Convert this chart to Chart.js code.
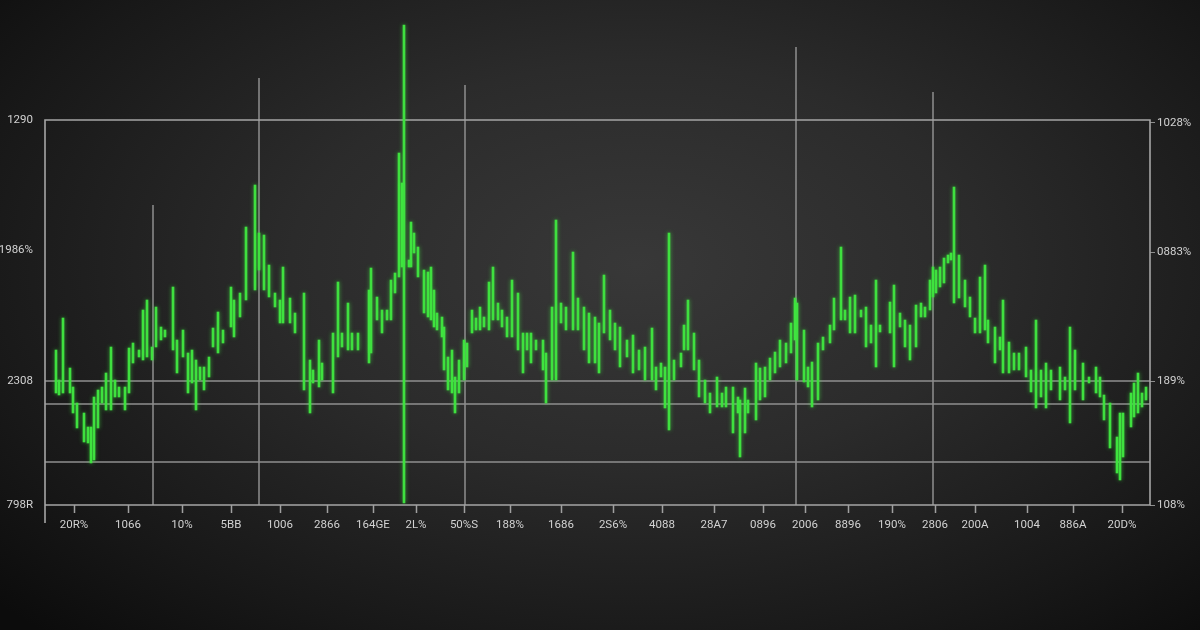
<!DOCTYPE html>
<html>
<head>
<meta charset="utf-8">
<script src="https://cdn.jsdelivr.net/npm/chart.js@4/dist/chart.umd.min.js"></script>
<style>
  html, body { margin: 0; padding: 0; }
  body {
    width: 1200px; height: 630px; overflow: hidden;
    background: radial-gradient(ellipse 72% 80% at 53% 42%, #383838 0%, #2b2b2b 40%, #181818 78%, #0c0c0c 100%);
  }
  #wrap { position: relative; width: 1200px; height: 630px; }
</style>
</head>
<body>
<div id="wrap"><canvas id="priceChart" width="1200" height="630"></canvas></div>
<script>
// session index (x), low and high of each bar
const times = [11,14,18,25,28,32,39,43,46,49,53,57,61,66,70,74,80,84,88,94,98,102,107,111,116,120,128,132,138,143,147,151,155,159,164,168,173,178,186,189,195,201,210,214,219,224,230,235,238,245,250,259,265,268,274,277,288,293,297,303,307,313,324,326,332,337,342,346,350,354,357,359,364,366,369,373,379,383,386,389,392,397,399,403,407,410,414,419,422,427,431,435,439,444,448,453,457,462,467,473,478,482,486,491,498,501,507,511,516,521,528,533,539,544,550,554,559,565,570,575,582,588,594,600,607,611,616,620,624,629,636,639,643,649,654,660,665,672,677,681,688,693,695,700,703,711,715,720,725,730,735,741,746,750,752,759,763,767,773,778,785,789,796,800,805,810,816,821,826,831,835,845,849,855,860,865,871,876,880,885,888,891,895,899,903,906,909,914,920,925,930,935,940,943,950,955,958,964,969,974,981,986,991,996,1001,1006,1015,1020,1025,1030,1038,1044,1051,1055,1059,1065,1072,1075,1078,1086,1089,1093,1097,1101];
const lows = [112,110,112,112,92,77,63,62,42,45,77,102,95,95,108,108,95,112,142,148,145,148,145,158,165,168,155,132,148,112,122,95,125,115,128,158,152,162,178,168,188,205,215,235,215,208,198,182,182,182,172,115,92,122,118,125,112,148,158,155,155,155,142,152,185,172,185,185,212,228,238,2,238,238,252,228,192,188,185,178,175,168,135,115,112,92,112,125,138,172,175,175,178,175,185,185,178,168,168,155,132,155,142,155,135,102,125,125,182,175,175,175,155,142,142,132,172,165,155,138,148,132,135,125,125,115,128,97,75,125,138,155,155,135,108,102,92,98,98,98,72,92,48,72,92,85,105,108,125,132,138,142,152,165,125,123,118,98,105,155,162,175,185,185,172,172,188,158,162,138,173,172,138,178,158,145,158,188,188,195,208,212,218,222,242,245,202,207,198,188,172,172,175,162,142,155,132,132,135,135,128,113,97,108,97,115,105,115,82,115,105,122,112,108,85,57,32,25,48,78,88,92,98,105];
const highs = [155,125,187,137,118,102,92,78,78,108,115,118,132,158,125,118,118,157,162,155,195,205,158,198,178,175,218,165,175,152,155,145,138,138,148,177,193,175,218,205,212,278,320,272,270,240,212,205,238,207,192,212,145,135,165,142,172,223,172,202,172,172,215,237,208,195,195,225,232,352,322,480,245,283,272,258,235,233,238,215,192,188,178,148,155,128,145,165,162,195,187,198,188,223,238,202,195,188,225,212,172,172,172,165,165,152,198,285,202,198,253,207,198,192,188,182,230,195,182,178,165,170,155,158,177,138,142,138,272,145,152,180,205,172,145,125,112,128,112,118,118,108,105,117,105,142,137,138,147,153,165,162,182,207,202,175,138,143,162,168,180,207,258,195,208,210,195,198,180,225,180,203,220,192,185,180,200,202,198,225,238,235,238,247,250,252,318,250,225,208,187,228,240,185,178,168,205,163,152,152,158,135,185,135,142,135,138,128,178,155,142,128,138,128,110,102,68,92,92,112,122,132,112,118];

// axis ticks and their labels
const leftTicks = [0, 124, 255, 385];
const leftLabels = ['798R', '2308', '1986%', '1290'];
const rightTicks = [0, 124, 253, 382];
const rightLabels = ['108%', '189%', '0883%', '1028%'];
const xTicks = [29, 83, 137, 186, 235, 282, 328, 371, 419, 465, 516, 568, 617, 669, 718, 760, 803, 847, 890, 930, 982, 1028, 1077];
const xLabels = ['20R%', '1066', '10%', '5BB', '1006', '2866', '164GE', '2L%', '50%S', '188%', '1686', '2S6%', '4088', '28A7', '0896', '2006', '8896', '190%', '2806', '200A', '1004', '886A', '20D%'];

// reference lines
const hLines = [124, 101, 43];
const frameTop = 385;
const vLines = [108, 214, 420, 751, 888];
const vLineTops = [300, 427, 420, 458, 413];

document.addEventListener('DOMContentLoaded', function () {
  const lineColor = '#8e8e8e';
  const labelFont = { family: 'Roboto', size: 11.5 };

  const framePlugin = {
    id: 'frame',
    beforeDatasetsDraw(chart) {
      const ctx = chart.ctx;
      const x = chart.scales.x, y = chart.scales.y;
      const left = x.getPixelForValue(x.min), right = x.getPixelForValue(x.max);
      const bottom = y.getPixelForValue(0), top = y.getPixelForValue(frameTop);
      ctx.save();
      ctx.strokeStyle = lineColor;
      ctx.lineWidth = 1.5;
      ctx.beginPath();
      hLines.forEach(function (v) {
        const py = y.getPixelForValue(v);
        ctx.moveTo(left, py); ctx.lineTo(right, py);
      });
      vLines.forEach(function (t, i) {
        const px = x.getPixelForValue(t);
        ctx.moveTo(px, bottom); ctx.lineTo(px, y.getPixelForValue(vLineTops[i]));
      });
      ctx.stroke();
      ctx.strokeStyle = '#a5a5a5';
      ctx.lineWidth = 1.6;
      ctx.beginPath();
      ctx.rect(left, top, right - left, bottom - top);
      ctx.moveTo(left, bottom); ctx.lineTo(left, bottom + 18);
      ctx.stroke();
      ctx.restore();
      // glow for the bars
      ctx.save();
      ctx.shadowColor = 'rgba(70, 255, 70, 0.55)';
      ctx.shadowBlur = 4;
    },
    afterDatasetsDraw(chart) {
      chart.ctx.restore();
    },
    afterDraw(chart) {
      // x tick marks under the axis
      const ctx = chart.ctx;
      const x = chart.scales.x, y = chart.scales.y;
      const bottom = y.getPixelForValue(0);
      ctx.save();
      ctx.strokeStyle = '#a0a0a0';
      ctx.lineWidth = 1.5;
      ctx.beginPath();
      xTicks.forEach(function (t) {
        const px = Math.round(x.getPixelForValue(t)) + 0.5;
        ctx.moveTo(px, bottom); ctx.lineTo(px, bottom + 8);
      });
      ctx.stroke();
      ctx.restore();
    }
  };

  const ctx = document.getElementById('priceChart').getContext('2d');
  new Chart(ctx, {
    type: 'bar',
    data: {
      datasets: [{
        data: times.map(function (t, i) { return { x: t, y: [lows[i], highs[i]] }; }),
        backgroundColor: '#3fe03f',
        borderWidth: 0,
        barThickness: 2,
        yAxisID: 'y'
      }]
    },
    options: {
      responsive: false,
      animation: false,
      events: [],
      layout: { padding: { top: 17, left: 0, right: 0, bottom: 0 } },
      plugins: { legend: { display: false }, tooltip: { enabled: false } },
      scales: {
        x: {
          type: 'linear',
          min: 0,
          max: 1105,
          offset: false,
          afterFit: function (s) { s.height = 125; },
          afterBuildTicks: function (s) { s.ticks = xTicks.map(function (v) { return { value: v }; }); },
          grid: { display: false },
          border: { display: false },
          ticks: {
            autoSkip: false, maxRotation: 0, padding: 5,
            color: '#d2d2d2', font: labelFont,
            callback: function (v, i) { return xLabels[i]; }
          }
        },
        y: {
          position: 'left',
          min: 0,
          max: 488,
          afterFit: function (s) { s.width = 45; },
          afterBuildTicks: function (s) { s.ticks = leftTicks.map(function (v) { return { value: v }; }); },
          grid: { display: false },
          border: { display: false },
          ticks: {
            padding: 4, color: '#d2d2d2', font: labelFont,
            callback: function (v, i) { return leftLabels[i]; }
          }
        },
        y2: {
          position: 'right',
          min: 0,
          max: 488,
          afterFit: function (s) { s.width = 50; },
          afterBuildTicks: function (s) { s.ticks = rightTicks.map(function (v) { return { value: v }; }); },
          grid: { drawOnChartArea: false, drawTicks: true, tickLength: 5, color: '#8e8e8e' },
          border: { display: false },
          ticks: {
            padding: 2, color: '#d2d2d2', font: labelFont,
            callback: function (v, i) { return rightLabels[i]; }
          }
        }
      }
    },
    plugins: [framePlugin]
  });
});
</script>
</body>
</html>
